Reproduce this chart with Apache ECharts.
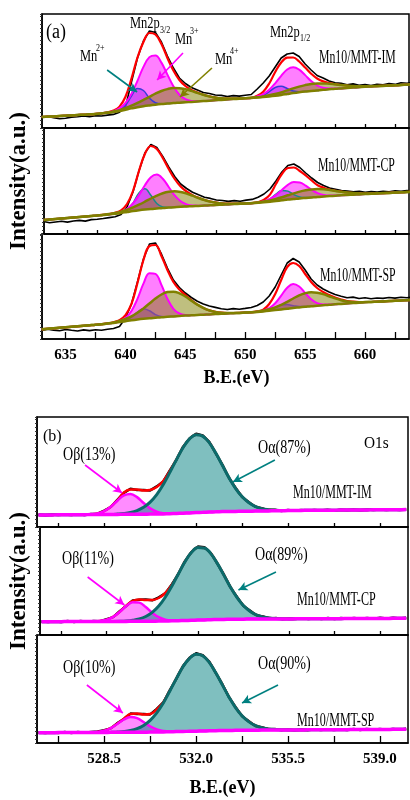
<!DOCTYPE html>
<html>
<head>
<meta charset="utf-8">
<script src="https://cdn.jsdelivr.net/npm/echarts@6/dist/echarts.min.js"></script>
<style>
  html, body { margin: 0; padding: 0; background: #fff; }
  #chart { width: 410px; height: 800px; }
</style>
</head>
<body>
<div id="chart"></div>
<script>
// ---- Binding-energy sampling (eV) ----
const MN_START = 633, MN_STEP = 0.5, MN_COUNT = 63;   // Mn 2p window
const O_START = 526, O_STEP = 0.25, O_COUNT = 57;     // O 1s window
const energyMn = Array.from({ length: MN_COUNT }, (_, i) => MN_START + i * MN_STEP);
const energyO = Array.from({ length: O_COUNT }, (_, i) => O_START + i * O_STEP);

// ---- Axis ticks ----
const mnTickValues = [635, 637.5, 640, 642.5, 645, 647.5, 650, 652.5, 655, 657.5, 660, 662.5];
const mnLabelValues = [635, 640, 645, 650, 655, 660];
const oTickValues = [526.75, 528.5, 530.25, 532, 533.75, 535.5, 537.25, 539];
const oLabelValues = [528.5, 532, 535.5, 539];

// ---- Sample names and O 1s peak shares (%) ----
const sampleNames = ['Mn10/MMT-IM', 'Mn10/MMT-CP', 'Mn10/MMT-SP'];
const oBetaShare = [13, 11, 10];
const oAlphaShare = [87, 89, 90];

// ---- Mn 2p, Mn10/MMT-IM (intensity, a.u.) ----
const mnImRaw = [
  10.5, 11.6, 10.2, 9.3, 9.8, 10.9, 11.2, 12.1, 11.4, 12.3,
  12.0, 12.9, 13.6, 15.8, 21.0, 46.0, 70.0, 87.0, 97.0, 95.5,
  86.0, 72.0, 60.0, 50.0, 44.5, 40.5, 38.0, 35.5, 34.5, 33.0,
  32.6, 31.5, 32.4, 31.9, 32.8, 33.5, 39.0, 45.0, 52.0, 61.0,
  70.0, 74.0, 75.0, 71.5, 64.0, 58.0, 52.5, 50.0, 47.0, 45.2,
  44.8, 43.2, 44.1, 42.6, 43.5, 42.4, 43.8, 43.1, 44.5, 43.6,
  45.3, 44.8, 45.5];
const mnImFit = [
  11.0, 11.3, 11.6, 12.0, 12.3, 12.6, 13.0, 13.3, 13.7, 14.1,
  14.7, 15.6, 17.4, 21.4, 31.2, 49.4, 70.5, 86.0, 95.0, 93.5,
  84.0, 70.0, 57.5, 48.0, 42.0, 38.1, 35.4, 33.2, 31.6, 30.4,
  29.7, 29.4, 29.4, 29.5, 29.8, 30.2, 32.2, 36.3, 44.5, 56.0,
  65.5, 70.3, 70.5, 66.5, 60.5, 54.3, 49.5, 46.6, 44.9, 43.9,
  43.0, 42.4, 41.9, 41.7, 41.7, 41.8, 42.0, 42.2, 42.4, 42.7,
  43.0, 43.3, 43.6];
const mnImBg = [
  11.0, 11.3, 11.6, 12.0, 12.3, 12.6, 13.0, 13.3, 13.7, 14.1,
  14.6, 15.2, 16.0, 17.0, 18.3, 19.6, 20.8, 21.8, 22.6, 23.3,
  23.9, 24.4, 24.9, 25.3, 25.7, 26.1, 26.5, 26.9, 27.3, 27.7,
  28.1, 28.5, 28.9, 29.3, 29.7, 30.1, 30.5, 31.0, 31.6, 32.3,
  33.1, 34.0, 34.9, 35.7, 36.4, 37.0, 37.6, 38.2, 38.7, 39.2,
  39.6, 40.0, 40.4, 40.8, 41.2, 41.5, 41.8, 42.1, 42.4, 42.7,
  43.0, 43.3, 43.6];
const mnImMn2 = [
  0, 0, 0, 0, 0, 0, 0, 0, 0, 0,
  0, 0, 0.1, 0.9, 4.5, 12.4, 18.8, 15.7, 7.3, 1.9,
  0.3, 0, 0, 0, 0, 0, 0, 0, 0, 0,
  0, 0, 0, 0, 0, 0, 0.3, 1.6, 4.7, 8.2,
  8.6, 5.5, 2.1, 0.5, 0.1, 0, 0, 0, 0, 0,
  0, 0, 0, 0, 0, 0, 0, 0, 0, 0,
  0, 0, 0];
const mnImMn3 = [
  0, 0, 0, 0, 0, 0, 0, 0, 0, 0,
  0, 0.2, 0.8, 2.6, 6.8, 14.7, 26.4, 39.3, 48.3, 49.2,
  41.5, 29.0, 16.8, 8.0, 3.2, 1.0, 0.3, 0, 0, 0,
  0, 0, 0, 0, 0, 0, 1.1, 2.9, 6.6, 12.4,
  19.1, 24.5, 25.9, 22.7, 16.5, 9.9, 4.9, 2.0, 0.7, 0.2,
  0, 0, 0, 0, 0, 0, 0, 0, 0, 0,
  0, 0, 0];
const mnImMn4 = [
  0, 0, 0, 0, 0, 0, 0, 0, 0, 0,
  0.1, 0.2, 0.5, 0.9, 1.6, 2.7, 4.3, 6.3, 8.6, 11.0,
  13.1, 14.5, 15.0, 14.5, 13.1, 11.0, 8.6, 6.3, 4.3, 2.7,
  1.6, 0.9, 0.5, 0.2, 0.1, 0.1, 0.3, 0.6, 1.1, 1.7,
  2.5, 3.6, 4.7, 5.7, 6.5, 7.0, 6.9, 6.4, 5.5, 4.5,
  3.4, 2.4, 1.5, 0.9, 0.5, 0.3, 0.2, 0.1, 0, 0,
  0, 0, 0];

// ---- Mn 2p, Mn10/MMT-CP ----
const mnCpRaw = [
  12.5, 11.2, 12.0, 12.8, 11.9, 13.0, 13.6, 12.9, 14.4, 14.8,
  15.5, 16.4, 17.2, 19.5, 27.0, 42.0, 63.0, 81.0, 89.5, 86.5,
  77.5, 67.0, 57.5, 50.0, 45.5, 41.8, 39.2, 36.8, 35.6, 34.0,
  33.5, 32.6, 33.4, 32.8, 33.9, 34.6, 36.8, 40.0, 45.0, 53.0,
  62.0, 68.5, 70.0, 66.5, 61.0, 56.0, 51.5, 48.5, 46.0, 44.8,
  43.4, 42.9, 42.1, 42.8, 41.6, 42.5, 41.9, 42.7, 42.2, 43.1,
  42.6, 43.5, 43.0];
const mnCpFit = [
  14.0, 14.5, 15.0, 15.5, 16.0, 16.5, 17.0, 17.5, 18.0, 18.5,
  19.2, 20.0, 21.3, 23.7, 30.0, 43.0, 63.0, 80.0, 88.0, 85.0,
  76.0, 65.0, 55.0, 47.5, 42.5, 38.9, 36.2, 34.0, 32.4, 31.3,
  30.6, 30.3, 30.3, 30.4, 30.6, 30.9, 32.0, 34.2, 39.3, 50.0,
  60.0, 66.0, 66.5, 63.0, 58.5, 53.5, 48.7, 46.3, 44.5, 43.2,
  42.3, 41.5, 40.9, 40.6, 40.4, 40.5, 40.7, 40.9, 41.1, 41.4,
  41.7, 42.0, 42.3];
const mnCpBg = [
  14.0, 14.5, 15.0, 15.5, 16.0, 16.5, 17.0, 17.5, 18.0, 18.5,
  19.0, 19.6, 20.3, 21.1, 22.0, 22.9, 23.7, 24.4, 25.0, 25.5,
  26.0, 26.4, 26.8, 27.2, 27.5, 27.8, 28.1, 28.4, 28.7, 29.0,
  29.3, 29.6, 29.9, 30.2, 30.5, 30.8, 31.2, 31.7, 32.3, 33.0,
  33.7, 34.4, 35.0, 35.6, 36.1, 36.6, 37.1, 37.5, 37.9, 38.3,
  38.7, 39.0, 39.3, 39.6, 39.9, 40.2, 40.5, 40.8, 41.1, 41.4,
  41.7, 42.0, 42.3];
const mnCpMn2 = [
  0, 0, 0, 0, 0, 0, 0, 0, 0, 0,
  0, 0, 0, 0.3, 2.1, 8.0, 17.4, 20.8, 13.7, 5.0,
  1.0, 0.1, 0, 0, 0, 0, 0, 0, 0, 0,
  0, 0, 0, 0, 0, 0, 0.1, 0.7, 2.9, 6.9,
  9.9, 8.5, 4.4, 1.4, 0.3, 0, 0, 0, 0, 0,
  0, 0, 0, 0, 0, 0, 0, 0, 0, 0,
  0, 0, 0];
const mnCpMn3 = [
  0, 0, 0, 0, 0, 0, 0, 0, 0, 0,
  0, 0, 0.3, 1.0, 3.2, 7.7, 15.1, 24.3, 31.8, 33.9,
  29.3, 20.6, 11.8, 5.5, 2.1, 0.6, 0.2, 0, 0, 0,
  0, 0, 0, 0, 0, 0, 0.3, 1.0, 2.8, 5.9,
  10.3, 14.7, 16.9, 15.9, 12.2, 7.6, 3.8, 1.6, 0.5, 0.1,
  0, 0, 0, 0, 0, 0, 0, 0, 0, 0,
  0, 0, 0];
const mnCpMn4 = [
  0, 0, 0, 0, 0, 0, 0, 0, 0, 0,
  0.2, 0.4, 0.7, 1.3, 2.3, 3.7, 5.6, 7.9, 10.5, 12.9,
  14.8, 15.9, 15.9, 14.8, 12.9, 10.5, 7.9, 5.6, 3.7, 2.3,
  1.3, 0.7, 0.4, 0.2, 0.1, 0.1, 0.4, 0.8, 1.3, 2.1,
  3.1, 4.3, 5.6, 6.8, 7.6, 8.0, 7.8, 7.2, 6.1, 4.8,
  3.6, 2.5, 1.6, 1.0, 0.5, 0.3, 0.2, 0.1, 0, 0,
  0, 0, 0];

// ---- Mn 2p, Mn10/MMT-SP ----
const mnSpRaw = [
  8.6, 9.8, 8.9, 8.2, 9.5, 8.7, 8.0, 9.1, 8.4, 9.3,
  8.8, 9.7, 10.5, 12.5, 21.0, 35.0, 57.0, 80.0, 95.0, 96.0,
  85.0, 71.0, 59.0, 51.5, 46.0, 41.5, 37.8, 35.0, 33.0, 31.6,
  30.2, 29.5, 30.4, 29.8, 30.6, 31.5, 33.5, 37.0, 43.0, 52.0,
  64.0, 76.0, 80.5, 77.0, 69.0, 60.0, 54.0, 50.0, 47.0, 44.5,
  42.8, 41.2, 41.9, 40.5, 41.3, 40.2, 41.0, 40.6, 41.5, 40.9,
  41.8, 41.3, 42.0];
const mnSpFit = [
  9.7, 10.2, 10.7, 11.2, 11.7, 12.2, 12.7, 13.2, 13.7, 14.2,
  14.8, 15.6, 16.8, 18.9, 23.9, 35.1, 56.0, 79.0, 93.0, 94.0,
  83.0, 69.0, 57.0, 49.5, 44.0, 39.0, 34.4, 31.1, 28.6, 27.1,
  26.3, 26.0, 26.0, 26.1, 26.4, 26.7, 27.6, 29.3, 35.0, 45.0,
  59.0, 72.0, 76.0, 73.0, 65.0, 57.0, 51.0, 47.0, 44.0, 41.5,
  39.5, 38.0, 37.3, 37.0, 37.0, 37.0, 37.3, 37.6, 37.9, 38.2,
  38.5, 38.8, 39.1];
const mnSpBg = [
  9.7, 10.2, 10.7, 11.2, 11.7, 12.2, 12.7, 13.2, 13.7, 14.2,
  14.8, 15.4, 16.1, 16.9, 17.8, 18.7, 19.5, 20.2, 20.8, 21.3,
  21.8, 22.2, 22.6, 23.0, 23.4, 23.7, 24.0, 24.3, 24.6, 24.9,
  25.2, 25.5, 25.8, 26.1, 26.4, 26.7, 27.1, 27.6, 28.2, 28.9,
  29.6, 30.3, 31.0, 31.6, 32.2, 32.8, 33.3, 33.8, 34.3, 34.7,
  35.1, 35.5, 35.9, 36.3, 36.7, 37.0, 37.3, 37.6, 37.9, 38.2,
  38.5, 38.8, 39.1];
const mnSpMn2 = [
  0, 0, 0, 0, 0, 0, 0, 0, 0, 0,
  0, 0, 0, 0.1, 0.7, 3.1, 7.4, 10.0, 7.4, 3.1,
  0.7, 0.1, 0, 0, 0, 0, 0, 0, 0, 0,
  0, 0, 0, 0, 0, 0, 0, 0.2, 1.0, 2.7,
  4.3, 4.1, 2.3, 0.8, 0.2, 0, 0, 0, 0, 0,
  0, 0, 0, 0, 0, 0, 0, 0, 0, 0,
  0, 0, 0];
const mnSpMn3 = [
  0, 0, 0, 0, 0, 0, 0, 0, 0, 0,
  0, 0, 0.2, 0.8, 3.2, 9.3, 20.7, 35.1, 45.0, 43.8,
  32.3, 18.0, 7.6, 2.5, 0.6, 0.1, 0, 0, 0, 0,
  0, 0, 0, 0, 0, 0, 0.2, 0.8, 2.6, 6.9,
  13.8, 20.9, 24.0, 20.9, 13.8, 6.9, 2.6, 0.8, 0.2, 0,
  0, 0, 0, 0, 0, 0, 0, 0, 0, 0,
  0, 0, 0];
const mnSpMn4 = [
  0, 0, 0, 0, 0, 0, 0, 0, 0, 0,
  0, 0.2, 0.5, 1.1, 2.2, 4.0, 6.8, 10.4, 14.7, 19.1,
  22.7, 24.7, 24.7, 22.7, 19.1, 14.7, 10.4, 6.8, 4.0, 2.2,
  1.1, 0.5, 0.2, 0, 0, 0, 0.3, 0.7, 1.5, 2.7,
  4.5, 6.9, 9.5, 12.0, 13.6, 14.0, 13.0, 11.1, 8.5, 5.9,
  3.7, 2.1, 1.1, 0.5, 0.2, 0, 0, 0, 0, 0,
  0, 0, 0];

// ---- O 1s, Mn10/MMT-IM ----
const oImRaw = [
  12.4, 11.7, 12.5, 11.9, 12.6, 12.0, 12.7, 12.1, 13.1, 13.3,
  16.4, 20.0, 27.2, 34.1, 38.2, 37.1, 37.0, 36.6, 40.6, 45.6,
  56.7, 67.0, 80.1, 88.6, 93.3, 91.6, 85.1, 73.4, 62.4, 49.0,
  39.3, 30.1, 25.1, 20.3, 18.9, 16.9, 17.2, 16.1, 16.9, 16.2,
  17.0, 16.3, 17.1, 16.5, 17.2, 16.6, 17.3, 16.7, 17.4, 16.8,
  17.5, 16.9, 17.6, 17.0, 17.6, 17.1, 17.8];
const oImFit = [
  12.0, 12.05, 12.1, 12.15, 12.2, 12.25, 12.3, 12.35, 12.7, 13.6,
  15.9, 20.3, 26.6, 34.5, 37.5, 37.5, 36.5, 37.0, 40.0, 46.0,
  56.0, 67.4, 79.3, 88.1, 92.3, 90.9, 84.4, 73.9, 61.7, 49.4,
  38.7, 30.4, 24.5, 20.7, 18.4, 17.3, 16.7, 16.5, 16.4, 16.5,
  16.6, 16.65, 16.7, 16.75, 16.8, 16.85, 16.9, 16.95, 17.0, 17.05,
  17.1, 17.15, 17.2, 17.25, 17.3, 17.35, 17.4];
const oImBg = [
  12.0, 12.05, 12.1, 12.15, 12.2, 12.25, 12.3, 12.35, 12.4, 12.45,
  12.5, 12.55, 12.6, 12.65, 12.7, 12.75, 12.8, 12.9, 13.0, 13.1,
  13.3, 13.5, 13.8, 14.1, 14.4, 14.7, 15.0, 15.2, 15.4, 15.5,
  15.6, 15.7, 15.8, 15.9, 16.0, 16.1, 16.2, 16.3, 16.4, 16.5,
  16.6, 16.65, 16.7, 16.75, 16.8, 16.85, 16.9, 16.95, 17.0, 17.05,
  17.1, 17.15, 17.2, 17.25, 17.3, 17.35, 17.4];
const oImBeta = [
  0, 0, 0, 0, 0, 0, 0, 0, 0.3, 1.1,
  3.4, 7.7, 13.7, 18.9, 20.4, 17.1, 11.2, 5.7, 2.3, 0.7,
  0.2, 0, 0, 0, 0, 0, 0, 0, 0, 0,
  0, 0, 0, 0, 0, 0, 0, 0, 0, 0,
  0, 0, 0, 0, 0, 0, 0, 0, 0, 0,
  0, 0, 0, 0, 0, 0, 0];
const oImAlpha = [
  0, 0, 0, 0, 0, 0, 0, 0, 0, 0,
  0, 0, 0.3, 0.8, 1.8, 3.7, 6.9, 12.0, 19.4, 29.3,
  41.3, 53.9, 65.5, 74.0, 77.9, 76.2, 69.4, 58.7, 46.3, 33.9,
  23.1, 14.7, 8.7, 4.8, 2.4, 1.2, 0.5, 0.2, 0, 0,
  0, 0, 0, 0, 0, 0, 0, 0, 0, 0,
  0, 0, 0, 0, 0, 0, 0];

// ---- O 1s, Mn10/MMT-CP ----
const oCpRaw = [
  13.7, 12.9, 13.8, 13.0, 13.9, 13.1, 13.9, 13.2, 14.1, 13.7,
  15.8, 17.9, 23.8, 28.9, 34.6, 35.2, 35.6, 34.7, 37.6, 41.6,
  50.6, 60.7, 73.6, 82.9, 88.4, 87.8, 81.9, 71.2, 60.5, 47.6,
  38.2, 29.1, 24.4, 19.7, 18.6, 16.5, 16.9, 15.8, 16.6, 15.9,
  16.7, 15.9, 16.8, 16.0, 16.9, 16.1, 17.0, 16.2, 17.0, 16.3,
  17.1, 16.3, 17.2, 16.4, 17.2, 16.5, 17.3];
const oCpFit = [
  13.3, 13.32, 13.35, 13.37, 13.4, 13.42, 13.45, 13.47, 13.6, 14.0,
  15.3, 18.2, 23.2, 29.3, 34.0, 35.5, 35.0, 35.0, 37.0, 42.0,
  50.0, 61.1, 73.0, 82.4, 87.5, 87.1, 81.4, 71.7, 59.9, 48.0,
  37.6, 29.5, 23.8, 20.1, 18.1, 16.9, 16.4, 16.2, 16.1, 16.13,
  16.16, 16.2, 16.23, 16.26, 16.3, 16.33, 16.36, 16.4, 16.43, 16.46,
  16.5, 16.53, 16.56, 16.6, 16.63, 16.66, 16.7];
const oCpBg = [
  13.3, 13.32, 13.35, 13.37, 13.4, 13.42, 13.45, 13.47, 13.5, 13.52,
  13.55, 13.57, 13.6, 13.62, 13.65, 13.67, 13.7, 13.8, 13.9, 14.0,
  14.15, 14.3, 14.5, 14.7, 14.9, 15.1, 15.3, 15.45, 15.6, 15.7,
  15.8, 15.85, 15.9, 15.93, 15.96, 16.0, 16.03, 16.06, 16.1, 16.13,
  16.16, 16.2, 16.23, 16.26, 16.3, 16.33, 16.36, 16.4, 16.43, 16.46,
  16.5, 16.53, 16.56, 16.6, 16.63, 16.66, 16.7];
const oCpBeta = [
  0, 0, 0, 0, 0, 0, 0, 0, 0.1, 0.5,
  1.7, 4.6, 9.5, 15.3, 19.2, 18.7, 14.2, 8.4, 3.9, 1.4,
  0.4, 0.1, 0, 0, 0, 0, 0, 0, 0, 0,
  0, 0, 0, 0, 0, 0, 0, 0, 0, 0,
  0, 0, 0, 0, 0, 0, 0, 0, 0, 0,
  0, 0, 0, 0, 0, 0, 0];
const oCpAlpha = [
  0, 0, 0, 0, 0, 0, 0, 0, 0, 0,
  0, 0, 0.1, 0.4, 1.1, 2.4, 4.8, 8.8, 15.0, 23.7,
  34.6, 46.7, 58.5, 67.7, 72.6, 72.0, 66.1, 56.2, 44.3, 32.3,
  21.8, 13.6, 7.9, 4.2, 2.1, 0.9, 0.4, 0.1, 0, 0,
  0, 0, 0, 0, 0, 0, 0, 0, 0, 0,
  0, 0, 0, 0, 0, 0, 0];

// ---- O 1s, Mn10/MMT-SP ----
const oSpRaw = [
  10.7, 9.9, 10.8, 10.0, 10.9, 10.1, 10.9, 10.2, 11.0, 11.5,
  12.8, 14.6, 19.9, 24.0, 29.4, 29.1, 28.9, 28.6, 34.0, 40.5,
  52.9, 64.2, 77.0, 85.3, 89.7, 87.9, 81.3, 69.8, 58.8, 45.7,
  36.1, 26.8, 21.9, 17.1, 15.8, 13.7, 13.9, 12.8, 13.5, 12.7,
  13.6, 12.8, 13.7, 12.9, 13.8, 12.9, 13.8, 13.0, 13.9, 13.1,
  14.0, 13.2, 14.0, 13.3, 14.1, 13.3, 14.2];
const oSpFit = [
  10.3, 10.33, 10.36, 10.39, 10.42, 10.45, 10.48, 10.51, 10.64, 11.07,
  12.3, 14.9, 19.4, 24.3, 29.0, 29.5, 28.5, 29.0, 33.5, 40.9,
  52.3, 64.6, 76.3, 84.7, 88.8, 87.2, 80.7, 70.2, 58.2, 46.1,
  35.5, 27.2, 21.4, 17.5, 15.3, 14.1, 13.45, 13.2, 13.03, 13.06,
  13.1, 13.14, 13.18, 13.21, 13.25, 13.29, 13.33, 13.36, 13.4, 13.44,
  13.48, 13.51, 13.55, 13.59, 13.63, 13.66, 13.7];
const oSpBg = [
  10.3, 10.33, 10.36, 10.39, 10.42, 10.45, 10.48, 10.51, 10.54, 10.57,
  10.6, 10.63, 10.66, 10.69, 10.72, 10.75, 10.8, 10.9, 11.0, 11.1,
  11.25, 11.4, 11.55, 11.7, 11.85, 12.0, 12.15, 12.3, 12.45, 12.55,
  12.65, 12.72, 12.8, 12.84, 12.88, 12.91, 12.95, 12.99, 13.03, 13.06,
  13.1, 13.14, 13.18, 13.21, 13.25, 13.29, 13.33, 13.36, 13.4, 13.44,
  13.48, 13.51, 13.55, 13.59, 13.63, 13.66, 13.7];
const oSpBeta = [
  0, 0, 0, 0, 0, 0, 0, 0, 0.1, 0.5,
  1.7, 4.3, 8.4, 12.8, 15.2, 14.1, 10.2, 5.7, 2.5, 0.9,
  0.2, 0, 0, 0, 0, 0, 0, 0, 0, 0,
  0, 0, 0, 0, 0, 0, 0, 0, 0, 0,
  0, 0, 0, 0, 0, 0, 0, 0, 0, 0,
  0, 0, 0, 0, 0, 0, 0];
const oSpAlpha = [
  0, 0, 0, 0, 0, 0, 0, 0, 0, 0,
  0, 0, 0.3, 0.8, 1.8, 3.7, 6.8, 11.8, 19.1, 28.9,
  40.8, 53.2, 64.7, 73.0, 76.9, 75.2, 68.5, 57.9, 45.7, 33.5,
  22.8, 14.5, 8.6, 4.7, 2.4, 1.2, 0.5, 0.2, 0, 0,
  0, 0, 0, 0, 0, 0, 0, 0, 0, 0,
  0, 0, 0, 0, 0, 0, 0];

// ---- Intensity range of each stacked sub-plot ----
const mnYMax = [114, 106, 105];
const oYMax = [110, 108, 108];

// ---- Assembly ----
const SERIF = '"Liberation Serif", "Times New Roman", serif';

const mnSpectra = [
  { raw: mnImRaw, fit: mnImFit, bg: mnImBg, parts: [mnImMn2, mnImMn3, mnImMn4] },
  { raw: mnCpRaw, fit: mnCpFit, bg: mnCpBg, parts: [mnCpMn2, mnCpMn3, mnCpMn4] },
  { raw: mnSpRaw, fit: mnSpFit, bg: mnSpBg, parts: [mnSpMn2, mnSpMn3, mnSpMn4] }
];
const oSpectra = [
  { raw: oImRaw, fit: oImFit, bg: oImBg, parts: [oImBeta, oImAlpha] },
  { raw: oCpRaw, fit: oCpFit, bg: oCpBg, parts: [oCpBeta, oCpAlpha] },
  { raw: oSpRaw, fit: oSpFit, bg: oSpBg, parts: [oSpBeta, oSpAlpha] }
];

// Component styles: Mn2+, Mn3+, Mn4+ and O-beta, O-alpha
const mnPartStyles = [
  [{ line: '#3b3bd8', fill: 'rgba(90,60,215,0.5)', width: 1.5 },
   { line: '#ff00ff', fill: 'rgba(255,0,255,0.5)', width: 2 },
   { line: '#808000', fill: 'rgba(128,128,0,0.5)', width: 2.5 }],
  [{ line: '#178a8a', fill: 'rgba(90,60,215,0.5)', width: 1.5 },
   { line: '#ff00ff', fill: 'rgba(255,0,255,0.5)', width: 2 },
   { line: '#808000', fill: 'rgba(128,128,0,0.5)', width: 2.5 }],
  [{ line: '#7a4aa0', fill: 'rgba(90,60,215,0.5)', width: 1.5 },
   { line: '#ff00ff', fill: 'rgba(255,0,255,0.5)', width: 2 },
   { line: '#808000', fill: 'rgba(128,128,0,0.5)', width: 2.5 }]
];
const oPartStyles = [
  { line: '#ff00ff', fill: 'rgba(255,0,255,0.45)', width: 2.5 },
  { line: '#0b6b6b', fill: 'rgba(0,128,128,0.5)', width: 3 }
];

const mnGrids = [
  { left: 42, top: 14, width: 367, height: 114 },
  { left: 42, top: 128, width: 367, height: 106 },
  { left: 42, top: 234, width: 367, height: 105 }
];
const oGrids = [
  { left: 37, top: 417, width: 371, height: 110 },
  { left: 37, top: 527, width: 371, height: 108 },
  { left: 37, top: 635, width: 371, height: 108 }
];

// Pointer arrows, in (eV, intensity) of their sub-plot
const mnArrows = [
  { from: [638.47, 58], to: [640.97, 36], color: '#008080' },
  { from: [644.80, 75], to: [642.64, 48], color: '#ff00ff' },
  { from: [647.22, 60], to: [644.55, 31], color: '#808000' }
];
const oArrows = [
  [{ from: [527.77, 62], to: [529.18, 34], color: '#ff00ff' },
   { from: [535.00, 67], to: [533.40, 45], color: '#008080' }],
  [{ from: [527.77, 58], to: [529.18, 30], color: '#ff00ff' },
   { from: [535.00, 63], to: [533.56, 45], color: '#008080' }],
  [{ from: [527.84, 58], to: [529.21, 30], color: '#ff00ff' },
   { from: [535.12, 58], to: [533.75, 40], color: '#008080' }]
];

// [energy, intensity] pairs for plain lines
const zip = (xs, ys) => xs.map((x, i) => [x, ys[i]]);
// [intensity, energy] rows: the intensity comes first so stacking accumulates it,
// and `encode` maps column 1 to x and column 0 to y
const zipStack = (xs, ys) => xs.map((x, i) => [ys[i], x]);

const grids = [], xAxes = [], yAxes = [], series = [];

function addPanel(gi, box, xs, spec, partStyles, o) {
  grids.push(Object.assign({ show: true, borderColor: '#000', borderWidth: 1.5, backgroundColor: 'transparent' }, box));
  const bottom = o.bottom;
  xAxes.push({
    type: 'value', gridIndex: gi, min: o.xMin, max: o.xMax,
    axisLine: { show: true, onZero: false, lineStyle: { color: '#000', width: 1.5 } },
    axisTick: { show: true, inside: true, length: bottom ? 7 : 4, customValues: o.ticks,
      lineStyle: { color: '#000', width: 1.3 } },
    axisLabel: { show: bottom, customValues: o.labels, formatter: o.fmt, margin: 9,
      fontFamily: SERIF, fontWeight: 'bold', fontSize: 15, color: '#000' },
    splitLine: { show: false },
    name: bottom ? 'B.E.(eV)' : '', nameLocation: 'middle', nameGap: o.xNameGap,
    nameTextStyle: { fontFamily: SERIF, fontWeight: 'bold', fontSize: 18, color: '#000',
      padding: o.xNamePad }
  });
  yAxes.push({
    type: 'value', gridIndex: gi, min: 0, max: o.yMax, interval: 4,
    axisLine: { show: true, onZero: false, lineStyle: { color: '#000', width: 1.5 } },
    axisTick: { show: true, inside: false, length: 2, lineStyle: { color: '#333', width: 1 } },
    axisLabel: { show: false }, splitLine: { show: false },
    name: o.yName || '', nameLocation: 'middle', nameRotate: 90, nameGap: o.yNameGap,
    nameTextStyle: { fontFamily: SERIF, fontWeight: 'bold', fontSize: 23, color: '#000' }
  });

  const common = { type: 'line', xAxisIndex: gi, yAxisIndex: gi, symbol: 'none', silent: true, animation: false };

  // measured spectrum
  series.push(Object.assign({}, common, {
    data: zip(xs, spec.raw), lineStyle: { color: '#000', width: o.rawWidth }, z: 2
  }));
  // fitted envelope
  series.push(Object.assign({}, common, {
    data: zip(xs, spec.fit), smooth: 0.4, lineStyle: { color: '#ff0000', width: o.fitWidth }, z: 3
  }));
  // fitted components, each filled down to the background
  spec.parts.forEach((part, j) => {
    const st = 'g' + gi + 'c' + j;
    const ps = partStyles[j];
    series.push(Object.assign({}, common, {
      data: zipStack(xs, spec.bg), encode: { x: 1, y: 0 }, stack: st, smooth: 0.4,
      lineStyle: { opacity: 0, width: 0 }, z: 4
    }));
    series.push(Object.assign({}, common, {
      data: zipStack(xs, part), encode: { x: 1, y: 0 }, stack: st, smooth: 0.4,
      lineStyle: { color: ps.line, width: ps.width }, areaStyle: { color: ps.fill, opacity: 1 }, z: 4
    }));
  });
  // background line + pointer arrows
  series.push(Object.assign({}, common, {
    data: zip(xs, spec.bg), smooth: 0.4, lineStyle: { color: o.bgColor, width: o.bgWidth }, z: 5,
    markLine: {
      silent: true, animation: false, symbol: ['none', 'arrow'], symbolSize: [7, 9],
      label: { show: false }, emphasis: { disabled: true },
      lineStyle: { type: 'solid', width: 1.6 },
      data: o.arrows.map(a => [
        { coord: a.from, lineStyle: { color: a.color, type: 'solid', width: 1.6 }, itemStyle: { color: a.color } },
        { coord: a.to }
      ])
    }
  }));
}

mnSpectra.forEach((spec, i) => addPanel(i, mnGrids[i], energyMn, spec, mnPartStyles[i], {
  bottom: i === 2, xMin: 633.03, xMax: 663.67, ticks: mnTickValues, labels: mnLabelValues,
  fmt: v => String(v), xNameGap: 30, xNamePad: [0, 0, 0, 22],
  yMax: mnYMax[i], yName: i === 1 ? 'Intensity(a.u.)' : '', yNameGap: 13,
  rawWidth: 1.6, fitWidth: 2.2, bgColor: '#808000', bgWidth: 2.5,
  arrows: i === 0 ? mnArrows : []
}));
oSpectra.forEach((spec, i) => addPanel(3 + i, oGrids[i], energyO, spec, oPartStyles, {
  bottom: i === 2, xMin: 525.94, xMax: 540.07, ticks: oTickValues, labels: oLabelValues,
  fmt: v => v.toFixed(1), xNameGap: 36, xNamePad: 0,
  yMax: oYMax[i], yName: i === 1 ? 'Intensity(a.u.)' : '', yNameGap: 9,
  rawWidth: 2.5, fitWidth: 2.5, bgColor: '#ff00ff', bgWidth: 3.5,
  arrows: oArrows[i]
}));

// ---- Text annotations ----
function txt(x, y, text, size, sx) {
  return {
    type: 'text', x: x, y: y, scaleX: sx, originX: 0, originY: 0, silent: true, z: 100,
    style: { text: text, x: 0, y: 0, fontFamily: SERIF, fontSize: size, fill: '#000',
      align: 'left', verticalAlign: 'middle', textAlign: 'left', textVerticalAlign: 'middle' }
  };
}
const notes = [
  txt(46, 33, '(a)', 20, 0.9),
  txt(130, 24, 'Mn2p', 16, 0.78), txt(160, 30, '3/2', 10, 0.8),
  txt(175, 40, 'Mn', 16, 0.78), txt(190, 31.5, '3+', 10, 0.8),
  txt(80, 57, 'Mn', 16, 0.78), txt(96, 48.5, '2+', 10, 0.8),
  txt(215, 60, 'Mn', 16, 0.78), txt(230, 51.5, '4+', 10, 0.8),
  txt(270, 32.5, 'Mn2p', 16, 0.78), txt(300, 38.5, '1/2', 10, 0.8),
  txt(319, 58, sampleNames[0], 19, 0.62),
  txt(318, 166, sampleNames[1], 19, 0.62),
  txt(320, 276, sampleNames[2], 19, 0.62),

  txt(43, 437, '(b)', 16, 1.0),
  txt(364, 444, 'O1s', 17, 0.9),
  txt(63, 455, 'Oβ(' + oBetaShare[0] + '%)', 18, 0.78),
  txt(258, 448, 'Oα(' + oAlphaShare[0] + '%)', 18, 0.78),
  txt(293, 493, sampleNames[0], 18, 0.67),
  txt(62, 559, 'Oβ(' + oBetaShare[1] + '%)', 18, 0.78),
  txt(255, 555, 'Oα(' + oAlphaShare[1] + '%)', 18, 0.78),
  txt(297, 600, sampleNames[1], 18, 0.67),
  txt(63, 668, 'Oβ(' + oBetaShare[2] + '%)', 18, 0.78),
  txt(258, 664, 'Oα(' + oAlphaShare[2] + '%)', 18, 0.78),
  txt(297, 721, sampleNames[2], 18, 0.67)
];

const chart = echarts.init(document.getElementById('chart'), null, { renderer: 'canvas' });
chart.setOption({
  animation: false,
  backgroundColor: '#fff',
  grid: grids,
  xAxis: xAxes,
  yAxis: yAxes,
  series: series,
  graphic: { elements: notes }
});
</script>
</body>
</html>
